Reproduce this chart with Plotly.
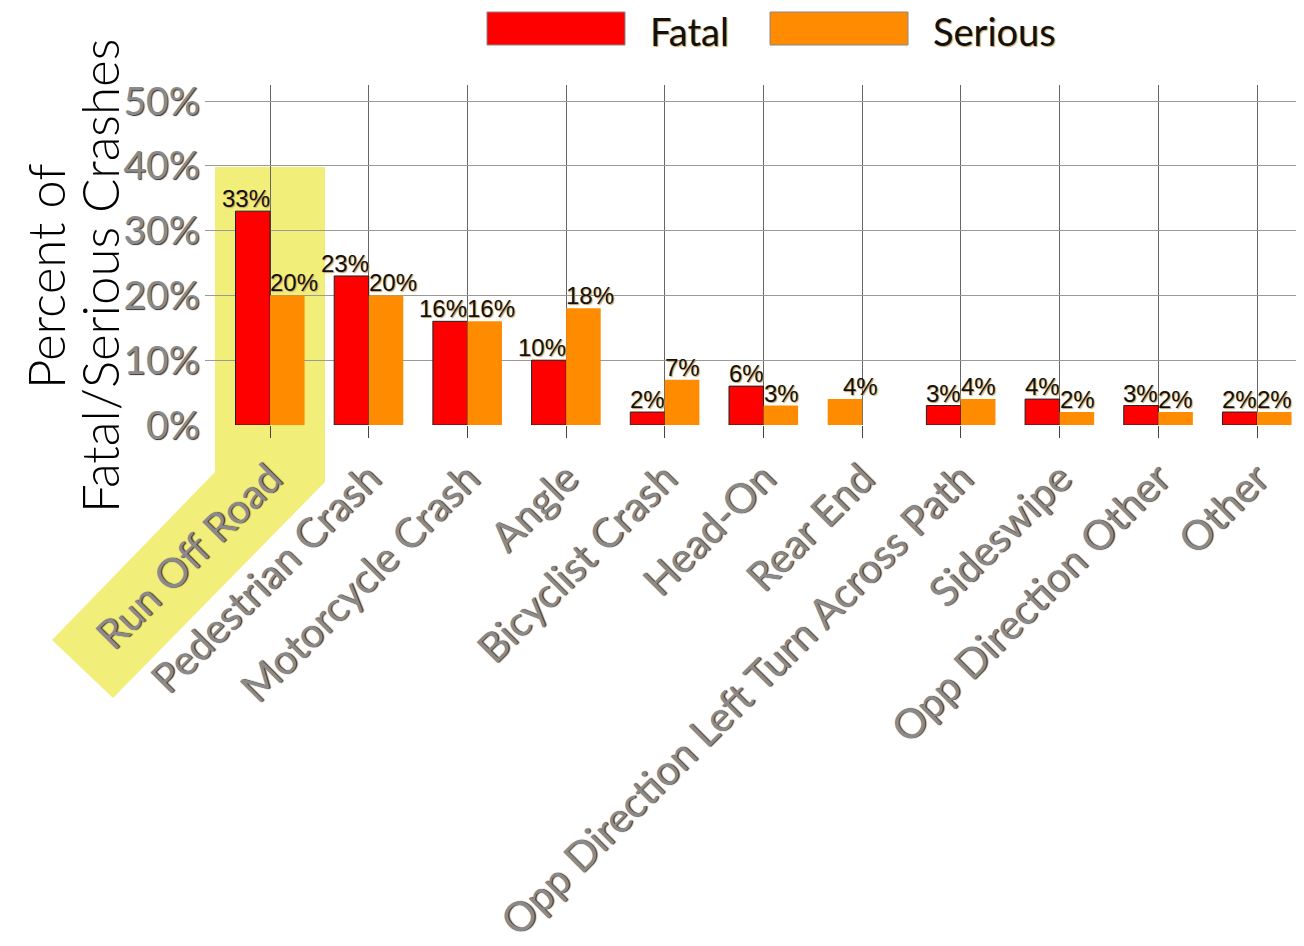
import plotly.graph_objects as go


# ==========================
# DATA
# ==========================

categories = [
    "Run Off Road",
    "Pedestrian Crash",
    "Motorcycle Crash",
    "Angle",
    "Bicyclist Crash",
    "Head-On",
    "Rear End",
    "Opp Direction Left Turn Across Path",
    "Sideswipe",
    "Opp Direction Other",
    "Other",
]

fatal = [33, 23, 16, 10, 2, 6, None, 3, 4, 3, 2]

serious = [20, 20, 16, 18, 7, 3, 4, 4, 2, 2, 2]

y_ticks = [0, 10, 20, 30, 40, 50]

y_tick_labels = ["0%", "10%", "20%", "30%", "40%", "50%"]


# ==========================
# LAYOUT HELPERS
# ==========================

# the page body has an 8px margin, so the figure starts at (8, 8)
OFF = 8
W, H = 1304 - OFF, 946 - OFF
L, T, R = 205 - OFF, 85 - OFF, 0
B = H - (425 - OFF)
PW = W - L - R
PH = H - T - B


def px(x):
    return (x - OFF - L) / PW


def py(y):
    return (T + PH - (y - OFF)) / PH


BAR_W = 0.35
label_font = dict(family="Liberation Sans, Arial", size=24, color="#111",
                  shadow="1px 1px 1px #c8a060")
ytick_font = dict(family="Lato, DejaVu Sans", size=39, color="#8a8a8a",
                  shadow="1px 1px 1px #333")
xtick_font = dict(family="Lato, DejaVu Sans", size=41, color="#8a8a8a",
                  shadow="1px 1px 1px #333")
title_font = dict(family="Lato, DejaVu Sans", size=51, color="#000",
                  weight=300)


fig = go.Figure()


# Fatal
fig.add_trace(
    go.Bar(
        x=list(range(len(categories))),
        y=fatal,
        name="Fatal",
        width=BAR_W,
        offset=-BAR_W,
        marker=dict(color="#ff0000", line=dict(color="#222", width=1)),
    )
)


# Serious (Rear End sits in the left slot, as in the source)
serious_offset = [
    -BAR_W if f is None else 0 for f in fatal
]

fig.add_trace(
    go.Bar(
        x=list(range(len(categories))),
        y=serious,
        name="Serious",
        width=BAR_W,
        offset=serious_offset,
        marker=dict(color="#ff8c00", line=dict(width=0)),
    )
)


# value labels
annotations = []

for i, (f, s) in enumerate(zip(fatal, serious)):

    if f is not None:
        annotations.append(dict(
            x=i, y=f, xref="x", yref="y", text=f"{f}%",
            xanchor="right", yanchor="bottom", showarrow=False,
            font=label_font, yshift=-3, xshift=2,
        ))

    annotations.append(dict(
        x=i, y=s, xref="x", yref="y", text=f"{s}%",
        xanchor="center" if f is None else "left",
        yanchor="bottom", showarrow=False,
        font=label_font, yshift=-3, xshift=-2,
    ))


# axis title, two lines placed separately for tighter spacing
for text, xpix in [("Percent of", 45), ("Fatal/Serious Crashes", 99)]:
    annotations.append(dict(
        x=px(xpix), y=py(276), xref="paper", yref="paper",
        text=text, textangle=-90, showarrow=False,
        font=title_font, xanchor="center", yanchor="middle",
    ))


# legend (drawn by hand to get the wide swatches)
legend_items = [("Fatal", "#ff0000", 487), ("Serious", "#ff8c00", 770)]

shapes = []

for name, color, x0 in legend_items:
    shapes.append(dict(
        type="rect", xref="paper", yref="paper",
        x0=px(x0), x1=px(x0 + 138), y0=py(45), y1=py(12),
        fillcolor=color, line=dict(color="#888", width=1),
    ))
    annotations.append(dict(
        x=px(x0 + 162), y=py(31), xref="paper", yref="paper",
        text=name, showarrow=False, xanchor="left", yanchor="middle",
        borderpad=0,
        font=dict(family="Lato, DejaVu Sans", size=38, color="#111",
                  shadow="1px 1px 1px #c8a060"),
    ))


# highlight around Run Off Road
hl = [(215, 167), (325, 167), (325, 482), (113, 698), (52, 640), (215, 472)]

path = "M " + " L ".join(f"{px(x)},{py(y)}" for x, y in hl) + " Z"

shapes.append(dict(
    type="path", xref="paper", yref="paper", path=path,
    fillcolor="#f2ee7a", line=dict(width=0), layer="below",
))


fig.update_layout(

    width=W,

    height=H,

    margin=dict(l=L, r=R, t=T, b=B, autoexpand=False),

    paper_bgcolor="white",

    plot_bgcolor="rgba(0,0,0,0)",

    barmode="overlay",

    showlegend=False,

    shapes=shapes,

    annotations=annotations,

    xaxis=dict(
        range=[-0.659, 10.476],
        tickmode="array",
        tickvals=list(range(len(categories))),
        ticktext=categories,
        tickangle=-45,
        tickfont=xtick_font,
        showgrid=True,
        gridcolor="#666",
        gridwidth=1,
        ticks="outside",
        ticklen=12,
        tickcolor="#444",
        showline=False,
        zeroline=False,
        automargin=False,
    ),

    yaxis=dict(
        range=[0, 52.47],
        tickmode="array",
        tickvals=y_ticks,
        ticktext=y_tick_labels,
        tickfont=ytick_font,
        showgrid=True,
        gridcolor="#999",
        gridwidth=1,
        zeroline=False,
        showline=False,
        ticks="",
        ticklabelstandoff=4,
        automargin=False,
    ),

)


fig.write_html("out.html")
